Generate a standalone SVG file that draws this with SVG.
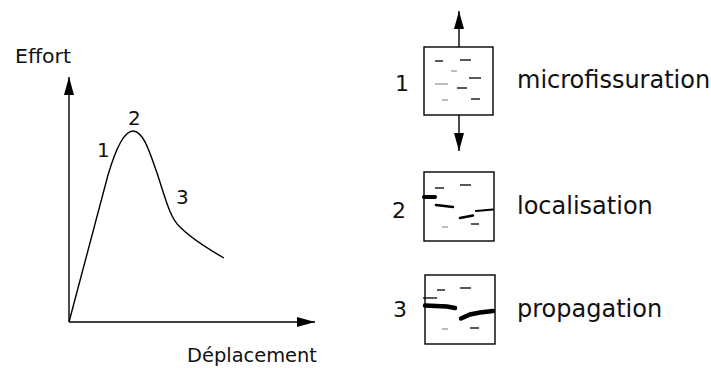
<svg xmlns="http://www.w3.org/2000/svg" width="711" height="368" viewBox="0 0 711 368">
<defs>
<marker id="ah" viewBox="0 0 18 10" refX="18" refY="5" markerWidth="18" markerHeight="10" markerUnits="userSpaceOnUse" orient="auto">
<path d="M0,0 L18,5 L0,10 Z" fill="#000"/>
</marker>
</defs>
<style>
text{font-family:"DejaVu Sans","Liberation Sans",sans-serif;fill:#111}
.ax{stroke:#000;stroke-width:1.4;fill:none}
.box{stroke:#000;stroke-width:1.4;fill:#fff}
.d{stroke:#000;stroke-width:1.3;fill:none}
.g{stroke:#999;stroke-width:1.3;fill:none}
.t{stroke:#000;fill:none;stroke-linecap:round}
.lbl{font-size:24px}
.num{font-size:20px}
.rnum{font-size:22px}
</style>
<rect width="711" height="368" fill="#fff"/>
<g id="connectors">
<line class="ax" x1="69" y1="322" x2="69" y2="77" marker-end="url(#ah)"/>
<line class="ax" x1="69" y1="322" x2="315" y2="322" marker-end="url(#ah)"/>
<line class="ax" x1="459" y1="47" x2="459" y2="11" marker-end="url(#ah)"/>
<line class="ax" x1="459" y1="115" x2="459" y2="151" marker-end="url(#ah)"/>
</g>
<g id="graph">
<path class="ax" stroke-width="1.6" d="M69,322 L108,175 C116,148 124,131 133,131 C143,131 149,150 157,173 C166,200 170,218 180,227 C193,240 210,250 224,258"/>
<text x="15" y="63" font-size="20" textLength="56" lengthAdjust="spacingAndGlyphs">Effort</text>
<text x="187" y="362" font-size="20" textLength="130" lengthAdjust="spacingAndGlyphs">Déplacement</text>
<text class="num" x="97" y="157">1</text>
<text class="num" x="128" y="125">2</text>
<text class="num" x="176" y="204">3</text>
</g>
<g id="state1">
<rect class="box" x="424" y="47" width="69" height="68"/>
<line class="d" x1="435" y1="61" x2="443" y2="61"/>
<line class="d" x1="460" y1="60" x2="471" y2="60"/>
<line class="g" x1="451" y1="71" x2="457" y2="71"/>
<line class="d" x1="469" y1="78" x2="481" y2="78"/>
<line class="g" x1="435" y1="84" x2="448" y2="84"/>
<line class="d" x1="457" y1="88" x2="467" y2="88"/>
<line class="g" x1="442" y1="100" x2="448" y2="100"/>
<line class="d" x1="471" y1="99" x2="480" y2="99"/>
<text class="rnum" x="395" y="91">1</text>
<text class="lbl" x="517" y="88">microfissuration</text>
</g>
<g id="state2">
<rect class="box" x="424" y="172" width="70" height="69"/>
<line class="d" x1="435" y1="188" x2="444" y2="188"/>
<line class="d" x1="460" y1="185" x2="471" y2="185"/>
<line class="t" stroke-width="4" stroke-linecap="butt" x1="424" y1="197" x2="435" y2="197"/>
<line class="t" stroke-width="2.6" x1="436" y1="205" x2="453" y2="207"/>
<line class="t" stroke-width="2.6" x1="460" y1="218" x2="473" y2="215.5"/>
<line class="t" stroke-width="2.2" x1="476" y1="211" x2="493" y2="209.5"/>
<line class="g" x1="442" y1="227" x2="448" y2="227"/>
<line class="d" x1="471" y1="224" x2="479" y2="224"/>
<text class="rnum" x="392" y="218">2</text>
<text class="lbl" x="517" y="214">localisation</text>
</g>
<g id="state3">
<rect class="box" x="425" y="275" width="70" height="69"/>
<line class="d" x1="437" y1="290" x2="445" y2="290"/>
<line class="d" x1="460" y1="288" x2="471" y2="288"/>
<line class="d" x1="423" y1="298" x2="437" y2="298"/>
<path class="t" stroke-width="4.5" d="M425,305.5 L447,306.5 L455,308"/>
<path class="t" stroke-width="4.5" d="M461,318.5 L470,314.5 L480,312.5 L493,311"/>
<line class="g" x1="442" y1="329" x2="448" y2="329"/>
<line class="d" x1="470" y1="328" x2="479" y2="328"/>
<text class="rnum" x="393" y="317">3</text>
<text class="lbl" x="517" y="317">propagation</text>
</g>
</svg>
